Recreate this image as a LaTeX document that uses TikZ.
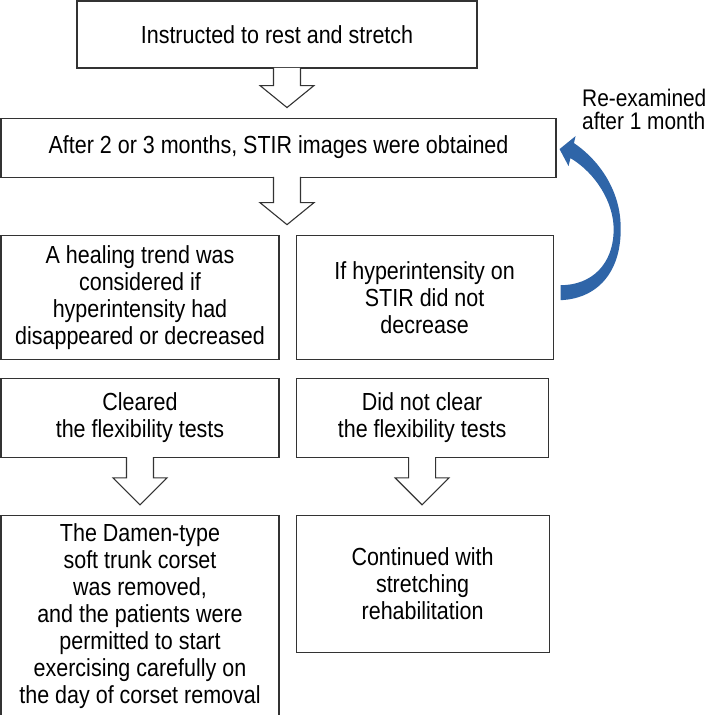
\documentclass[tikz,border=0pt]{standalone}
\usepackage{fontspec}
\setmainfont{Liberation Sans}[FakeStretch=0.87]
\usetikzlibrary{positioning,calc}
\definecolor{loopblue}{RGB}{47,101,168}

\begin{document}
\begin{tikzpicture}[
	x=1pt, y=1pt,
	node distance=57pt and 16pt,
	mynode/.style={draw=black!80, line width=1.1pt, rectangle, align=center, inner sep=0pt, font=\fontsize{24.7pt}{27pt}\selectfont},
	hollow/.style={draw=black!80, line width=1.1pt, fill=white, to path={
		let \p1=(\tikztostart), \p2=(\tikztotarget) in
		(\x1-13.5pt,\y1+0.8pt) -- (\x1-13.5pt,\y2+10pt+#1) -- (\x1-27pt,\y2+10pt+#1)
		-- (\x1,\y2+10pt) -- (\x1+27pt,\y2+10pt+#1) -- (\x1+13.5pt,\y2+10pt+#1)
		-- (\x1+13.5pt,\y1+0.8pt)}},
	hollow/.default=22pt
	]
	\useasboundingbox (0,0) rectangle (714,-715);

	\node[mynode, minimum width=400pt, minimum height=67pt] (rest) at (277,-34.5) {Instructed to rest and stretch};
	\node[mynode, minimum width=555pt, minimum height=59pt, below=49pt of rest, xshift=1.5pt] (stir) {After 2 or 3 months, STIR images were obtained};
	\node[mynode, minimum width=278pt, minimum height=124pt, below=of stir.south west, anchor=north west] (heal) {A healing trend was\\considered if\\hyperintensity had\\disappeared or decreased};
	\node[mynode, minimum width=257pt, minimum height=124pt, right=of heal] (nodec) {If hyperintensity on\\STIR did not\\decrease};
	\node[mynode, minimum width=278pt, minimum height=79pt, below=18pt of heal] (clear) {Cleared\\the flexibility tests};
	\node[mynode, minimum width=252pt, minimum height=79pt, right=of clear] (noclear) {Did not clear\\the flexibility tests};
	\node[mynode, minimum width=278pt, minimum height=202pt, below=of clear] (removed) {The Damen-type\\soft trunk corset\\was removed,\\and the patients were\\permitted to start\\exercising carefully on\\the day of corset removal};
	\node[mynode, minimum width=253pt, minimum height=137pt, right=of removed.north east, anchor=north west] (contin) {Continued with\\stretching\\rehabilitation};

	\node[font=\fontsize{24pt}{23pt}\selectfont, align=left, inner sep=0pt, anchor=north west] (reexam) at (582,-89) {Re-examined\\after 1 month};

	% block arrows
	\draw[hollow] ([xshift=10pt]rest.south) to (stir.north);
	\draw[hollow] ([xshift=8.5pt]stir.south) to (heal.north);
	\draw[hollow=27pt] (clear.south) to (removed.north);
	\draw[hollow=27pt] (noclear.south) to (contin.north);

	% loop back to the STIR box
	\coordinate (back) at ([shift={(7,4)}]nodec.east);
	\coordinate (again) at ([shift={(3,-1.5)}]stir.east);
	\fill[loopblue] ($(back)+(0,-7)$)
		.. controls ($(back)+(41,-5)$) and ($(back)+(61,26)$) .. ($(back)+(60,66)$)
		.. controls ($(back)+(60,101)$) and ($(again)+(41,-12)$) .. ($(again)+(14.4,6)$)
		-- ($(again)+(16,13)$) -- (again) -- ($(again)+(9,-17)$) -- ($(again)+(10.9,-9)$)
		.. controls ($(again)+(36,-24)$) and ($(back)+(53,91)$) .. ($(back)+(53,64)$)
		.. controls ($(back)+(53,29)$) and ($(back)+(31,8)$) .. ($(back)+(0,8)$) -- cycle;
\end{tikzpicture}
\end{document}
